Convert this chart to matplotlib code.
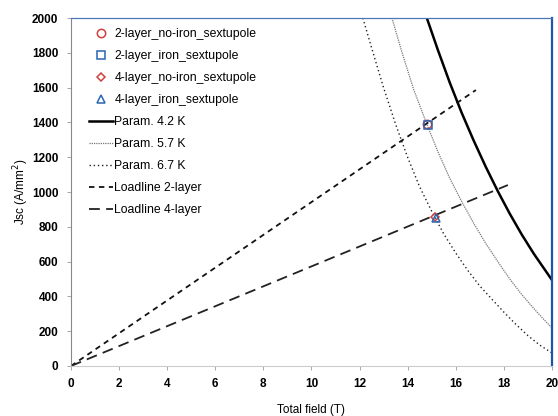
"""Jsc vs total field: critical surface parametrisations with magnet load lines
"""
import matplotlib
matplotlib.use('Agg')
import matplotlib.pyplot as plt

plt.rcParams['font.family'] = ['Liberation Sans', 'DejaVu Sans']

# Parametrised critical current density curves
b_42 = [14.8, 15.25, 15.75, 16.25, 16.75, 17.25, 17.75, 18.25, 18.75,
        19.25, 19.75, 20.0]
j_42 = [2000, 1820, 1630, 1455, 1295, 1145, 1005, 875, 755, 645, 545, 495]

b_57 = [13.35, 13.75, 14.25, 14.8, 15.25, 15.75, 16.25, 16.75, 17.25,
        17.75, 18.25, 18.75, 19.25, 19.75, 20.0]
j_57 = [2000, 1810, 1590, 1390, 1235, 1080, 945, 820, 705, 600, 500, 410,
        330, 255, 220]

b_67 = [12.14, 12.5, 13.0, 13.5, 14.0, 14.5, 15.0, 15.5, 16.0, 16.5, 17.0,
        17.5, 18.0, 18.5, 19.0, 19.5, 20.0]
j_67 = [2000, 1830, 1600, 1390, 1200, 1030, 890, 760, 650, 550, 460, 385,
        310, 240, 175, 120, 75]

# Load lines (start at origin)
load_2_b = [0, 16.84]
load_2_j = [0, 1586]
load_4_b = [0, 18.17]
load_4_j = [0, 1040]

# Operating points
pt_2_noiron = (14.8, 1392)
pt_2_iron = (14.85, 1385)
pt_4_noiron = (15.15, 856)
pt_4_iron = (15.2, 850)

red = '#d0403c'
blue = '#2a64b0'

fig = plt.figure(figsize=(5.58, 4.16), dpi=100)
ax = fig.add_axes([0.1272, 0.1202, 0.8618, 0.8365])

ax.plot(*pt_2_noiron, 'o', mfc='none', mec=red, ms=6, mew=1.1,
        label='2-layer_no-iron_sextupole', zorder=5)
ax.plot(*pt_2_iron, 's', mfc='none', mec=blue, ms=5.5, mew=1.1,
        label='2-layer_iron_sextupole', zorder=5)
ax.plot(*pt_4_noiron, 'D', mfc='none', mec=red, ms=4.5, mew=1.1,
        label='4-layer_no-iron_sextupole', zorder=5)
ax.plot(*pt_4_iron, '^', mfc='none', mec=blue, ms=6, mew=1.1,
        label='4-layer_iron_sextupole', zorder=5)

ax.plot(b_42, j_42, color='black', lw=1.8, label='Param. 4.2 K')
ax.plot(b_57, j_57, color='#777777', lw=0.9, ls=(0, (1, 0.8)),
        label='Param. 5.7 K')
ax.plot(b_67, j_67, color='#222222', lw=1.0, ls=(0, (1, 2)),
        label='Param. 6.7 K')
ax.plot(load_2_b, load_2_j, color='#111111', lw=1.3, ls=(0, (3, 2.5)),
        label='Loadline 2-layer')
ax.plot(load_4_b, load_4_j, color='#222222', lw=1.3, ls=(0, (6, 3.5)),
        label='Loadline 4-layer')

ax.set_xlim(0, 20)
ax.set_ylim(0, 2000)
ax.set_xticks(range(0, 21, 2))
ax.set_yticks(range(0, 2001, 200))
ax.tick_params(axis='both', length=3, width=0.6, color='#999999',
               labelsize=8.5, pad=6)
for lab in ax.get_xticklabels() + ax.get_yticklabels():
    lab.set_fontweight('bold')

ax.spines['left'].set_color('#888888')
ax.spines['left'].set_linewidth(0.8)
ax.spines['bottom'].set_color('#cccccc')
ax.spines['bottom'].set_linewidth(0.8)
ax.spines['top'].set_color('#4a78b8')
ax.spines['top'].set_linewidth(0.9)
ax.spines['right'].set_color('#1f55a8')
ax.spines['right'].set_linewidth(1.6)

ax.set_xlabel('Total field (T)', fontsize=8.5, labelpad=10)
ax.set_ylabel('Jsc (A/mm$^2$)', fontsize=8.5, labelpad=1)

ax.legend(loc='upper left', frameon=False, fontsize=8.8, handlelength=1.9,
          handletextpad=0.15, labelspacing=0.82, borderaxespad=0.4,
          bbox_to_anchor=(0.018, 1.0))

fig.savefig('out.png', dpi=100)
